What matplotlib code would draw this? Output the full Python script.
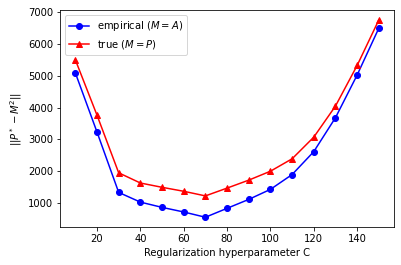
import matplotlib
matplotlib.use("Agg")
from matplotlib import pyplot as plt

# regularization values and errors
C_values = [10, 20, 30, 40, 50, 60, 70, 80, 90, 100, 110, 120, 130, 140, 150]
empirical = [5090, 3230, 1335, 1030, 865, 720, 555, 835, 1115, 1430, 1895, 2615, 3680, 5020, 6490]
true_vals = [5500, 3760, 1950, 1630, 1495, 1370, 1225, 1470, 1720, 2000, 2390, 3070, 4045, 5320, 6750]

fig = plt.figure(figsize=(401 / 72, 265 / 72), dpi=72)
ax = fig.add_axes([0.15, 0.143, 0.8325, 0.819])
ax.plot(C_values, empirical, "o-", color="blue", label="empirical ($M = A$)")
ax.plot(C_values, true_vals, "^-", color="red", label="true ($M = P$)")
ax.set_xlabel("Regularization hyperparameter C")
ax.set_ylabel("$||P^* - M^2||$")
ax.legend(loc="upper left")
fig.savefig("out.png", dpi=72)
